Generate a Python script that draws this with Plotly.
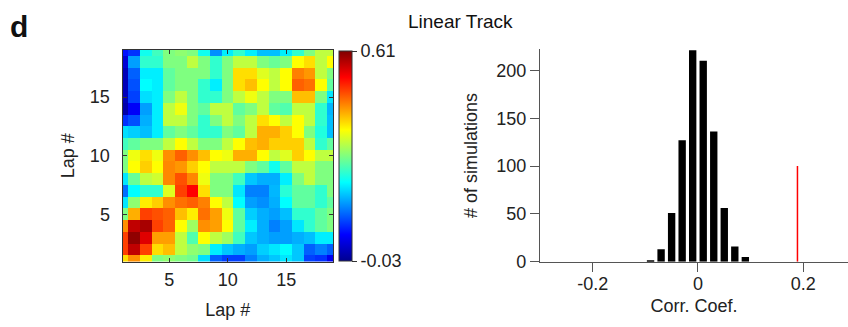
import plotly.graph_objects as go

# ---------------- data ----------------
laps = list(range(1, 20))

# lap-by-lap matrix, rows = lap 1 (bottom) .. lap 19 (top)
Z = [
    [0.39, 0.44, 0.38, 0.29, 0.30, 0.29, 0.28, 0.19, 0.11, 0.09, 0.09, 0.13, 0.16, 0.175, 0.195, 0.175, 0.09, 0.08, 0.04],
    [0.49, 0.57, 0.49, 0.39, 0.41, 0.33, 0.30, 0.29, 0.20, 0.175, 0.16, 0.15, 0.18, 0.195, 0.21, 0.175, 0.11, 0.13, 0.11],
    [0.49, 0.60, 0.55, 0.43, 0.43, 0.33, 0.26, 0.37, 0.33, 0.31, 0.25, 0.175, 0.16, 0.15, 0.15, 0.16, 0.17, 0.20, 0.20],
    [0.44, 0.57, 0.585, 0.49, 0.47, 0.37, 0.31, 0.44, 0.43, 0.37, 0.27, 0.20, 0.16, 0.13, 0.15, 0.195, 0.24, 0.27, 0.29],
    [0.29, 0.42, 0.49, 0.48, 0.47, 0.41, 0.38, 0.46, 0.43, 0.36, 0.27, 0.18, 0.16, 0.15, 0.17, 0.24, 0.24, 0.27, 0.29],
    [0.195, 0.30, 0.38, 0.40, 0.44, 0.46, 0.47, 0.45, 0.37, 0.33, 0.21, 0.15, 0.14, 0.16, 0.21, 0.27, 0.27, 0.24, 0.27],
    [0.12, 0.21, 0.24, 0.24, 0.35, 0.49, 0.53, 0.39, 0.29, 0.29, 0.195, 0.13, 0.13, 0.165, 0.235, 0.27, 0.27, 0.24, 0.29],
    [0.195, 0.275, 0.33, 0.34, 0.445, 0.48, 0.445, 0.36, 0.29, 0.29, 0.25, 0.175, 0.16, 0.16, 0.20, 0.29, 0.33, 0.29, 0.29],
    [0.29, 0.37, 0.40, 0.37, 0.445, 0.435, 0.40, 0.37, 0.33, 0.33, 0.33, 0.29, 0.27, 0.22, 0.27, 0.33, 0.33, 0.29, 0.29],
    [0.29, 0.36, 0.39, 0.36, 0.44, 0.47, 0.44, 0.41, 0.37, 0.36, 0.42, 0.42, 0.37, 0.33, 0.35, 0.40, 0.37, 0.33, 0.33],
    [0.25, 0.27, 0.29, 0.29, 0.33, 0.37, 0.33, 0.29, 0.29, 0.33, 0.37, 0.41, 0.42, 0.40, 0.40, 0.40, 0.33, 0.24, 0.27],
    [0.19, 0.18, 0.17, 0.20, 0.27, 0.29, 0.27, 0.24, 0.24, 0.29, 0.27, 0.33, 0.42, 0.42, 0.40, 0.37, 0.29, 0.23, 0.17],
    [0.08, 0.10, 0.16, 0.20, 0.33, 0.33, 0.29, 0.24, 0.29, 0.33, 0.29, 0.33, 0.39, 0.37, 0.33, 0.37, 0.33, 0.24, 0.17],
    [-0.01, 0.045, 0.15, 0.20, 0.33, 0.36, 0.29, 0.27, 0.33, 0.33, 0.27, 0.29, 0.33, 0.27, 0.26, 0.33, 0.33, 0.24, 0.165],
    [0.0, 0.09, 0.19, 0.20, 0.29, 0.33, 0.29, 0.24, 0.24, 0.29, 0.33, 0.36, 0.33, 0.29, 0.29, 0.41, 0.41, 0.29, 0.195],
    [0.0, 0.10, 0.21, 0.20, 0.27, 0.29, 0.29, 0.24, 0.20, 0.29, 0.39, 0.41, 0.37, 0.33, 0.37, 0.47, 0.46, 0.37, 0.27],
    [0.0, 0.11, 0.20, 0.20, 0.27, 0.29, 0.29, 0.29, 0.24, 0.29, 0.39, 0.39, 0.35, 0.33, 0.37, 0.45, 0.435, 0.33, 0.29],
    [0.02, 0.15, 0.24, 0.24, 0.29, 0.29, 0.33, 0.29, 0.24, 0.29, 0.33, 0.33, 0.29, 0.275, 0.29, 0.37, 0.39, 0.33, 0.37],
    [0.06, 0.08, 0.22, 0.25, 0.29, 0.30, 0.29, 0.22, 0.14, 0.20, 0.24, 0.20, 0.17, 0.17, 0.20, 0.24, 0.29, 0.33, 0.33],
]
z_min, z_max = -0.03, 0.61
lap_ticks = [5, 10, 15]

# shuffled-lap simulations histogram
bin_centers = [-0.09, -0.07, -0.05, -0.03, -0.01, 0.01, 0.03, 0.05, 0.07, 0.09]
sim_counts = [1, 13, 51, 127, 221, 210, 136, 56, 16, 5]
observed_r = 0.189
observed_marker_height = 100
hist_xticks = [-0.2, 0, 0.2]
hist_xticktext = ["-0.2", "0", "0.2"]
hist_yticks = [0, 50, 100, 150, 200]

# ---------------- figure ----------------
W, H = 848, 327
FONT = "Liberation Sans, Arial, Helvetica, sans-serif"
jet = [[0.0, "#00008f"], [0.125, "#0000ff"], [0.375, "#00ffff"],
       [0.625, "#ffff00"], [0.875, "#ff0000"], [1.0, "#800000"]]

fig = go.Figure()

fig.add_trace(go.Heatmap(
    x=laps, y=laps, z=Z, zmin=z_min, zmax=z_max, colorscale=jet,
    xaxis="x", yaxis="y",
    colorbar=dict(
        x=339 / W, xanchor="left", xpad=0,
        y=1 - 156 / H, yanchor="middle", ypad=0,
        len=210 / H, lenmode="fraction", thickness=13,
        outlinewidth=1, outlinecolor="#333",
        tickvals=[z_min, z_max], ticktext=["-0.03", "0.61"],
        ticks="outside", ticklen=5, tickcolor="#333",
        tickfont=dict(size=18, color="#222", family=FONT),
    ),
))

fig.add_trace(go.Bar(
    x=bin_centers, y=sim_counts, width=0.014,
    marker=dict(color="black", line=dict(width=0)),
    xaxis="x2", yaxis="y2", showlegend=False,
))
fig.add_trace(go.Scatter(
    x=[observed_r, observed_r], y=[0, observed_marker_height],
    mode="lines", line=dict(color="red", width=1.5),
    xaxis="x2", yaxis="y2", showlegend=False,
))

axis_font = dict(size=18, color="#222", family=FONT)
title_font = dict(size=18, color="#222", family=FONT)

fig.update_layout(
    width=W, height=H,
    margin=dict(l=0, r=0, t=0, b=0, autoexpand=False),
    paper_bgcolor="white", plot_bgcolor="white",
    font=dict(family=FONT, color="#222"),
    showlegend=False,
    xaxis=dict(
        domain=[122.5 / W, 333 / W], range=[1, 19], anchor="y", automargin=False,
        tickvals=lap_ticks, ticks="inside", ticklen=4, tickcolor="#333",
        showline=True, linecolor="#333", linewidth=1, mirror="ticks",
        showgrid=False, zeroline=False, tickfont=axis_font,
        ticklabelstandoff=2,
        title=dict(text="Lap #", font=title_font, standoff=14),
    ),
    yaxis=dict(
        domain=[1 - 261.5 / H, 1 - 50 / H], range=[1, 19], anchor="x", automargin=False,
        tickvals=lap_ticks, ticks="inside", ticklen=4, tickcolor="#333",
        showline=True, linecolor="#333", linewidth=1, mirror="ticks",
        showgrid=False, zeroline=False, tickfont=axis_font,
        ticklabelstandoff=8,
        title=dict(text="Lap #", font=title_font, standoff=10),
    ),
    xaxis2=dict(
        domain=[540 / W, 1.0], range=[-0.3, 0.285], anchor="y2", automargin=False,
        tickvals=hist_xticks, ticktext=hist_xticktext,
        ticks="outside", ticklen=9, tickcolor="#555", tickwidth=1.3,
        showline=True, linecolor="#555", linewidth=1.3,
        showgrid=False, zeroline=False, tickfont=axis_font,
        ticklabelstandoff=-3,
        title=dict(text="Corr. Coef.", font=title_font, standoff=5),
    ),
    yaxis2=dict(
        domain=[1 - 261.7 / H, 1 - 49.3 / H], range=[0, 222], anchor="x2", automargin=False,
        tickvals=hist_yticks,
        ticks="outside", ticklen=9, tickcolor="#555", tickwidth=1.3,
        showline=True, linecolor="#555", linewidth=1.3,
        showgrid=False, zeroline=False, tickfont=axis_font,
        title=dict(text="# of simulations", font=title_font, standoff=13),
    ),
    annotations=[
        dict(text="Linear Track", x=460 / W, y=1 - 22 / H, xref="paper", yref="paper",
             xanchor="center", yanchor="middle", showarrow=False,
             font=dict(size=19, color="#111", family=FONT)),
        dict(text="<b>d</b>", x=8 / W, y=1 - 27 / H, xref="paper", yref="paper",
             xanchor="left", yanchor="middle", showarrow=False,
             font=dict(size=30, color="#111", family=FONT)),
    ],
)

fig.write_html("out.html")
